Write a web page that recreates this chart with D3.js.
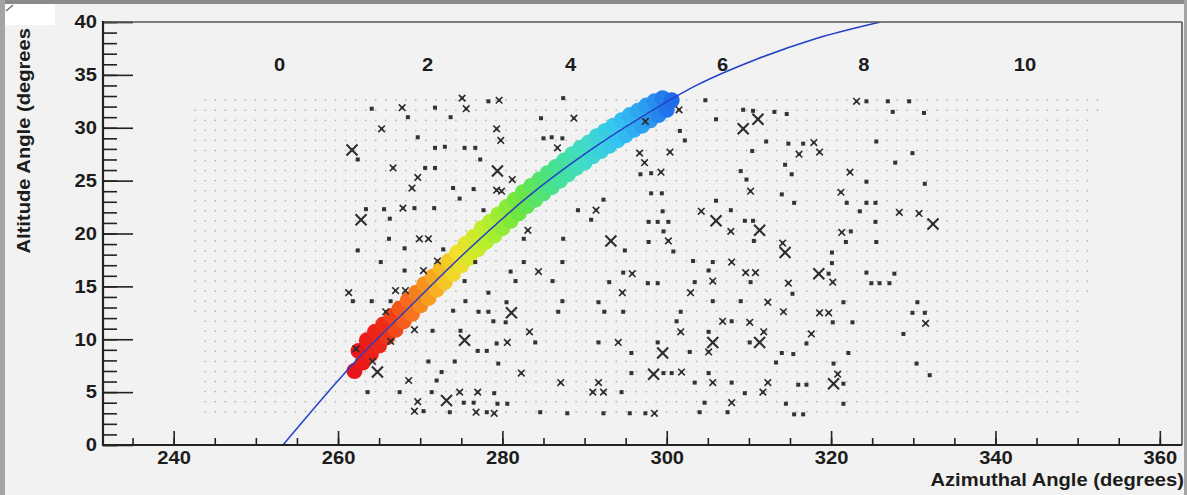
<!DOCTYPE html>
<html>
<head>
<meta charset="utf-8">
<script src="https://cdn.jsdelivr.net/npm/d3@7"></script>
<style>
  html, body { margin: 0; padding: 0; background: #f2f2f2; }
  svg { display: block; }
  text { font-family: "Liberation Sans", Arial, sans-serif; font-weight: bold; fill: #1c1c1c; }
</style>
</head>
<body>
<svg id="chart" width="1187" height="495"></svg>
<script>
// ---------- data ----------
// Camera field of view: one row of sample directions per altitude, with its azimuth extent
const gridRowAlt  = [32.6,31.65,30.7,29.75,28.8,27.85,26.9,25.95,25.0,24.05,23.1,22.15,21.2,20.25,19.3,18.35,
                     17.4,16.45,15.5,14.55,13.6,12.65,11.7,10.75,9.8,8.85,7.9,6.95,6.0,5.05,4.1,3.15];
const gridRowFrom = [242.7,242.3,242.4,242.2,242.0,241.8,241.7,241.6,241.6,241.5,241.5,241.6,241.7,241.7,241.8,242.0,
                     242.0,242.1,242.2,242.3,242.4,242.6,242.7,242.8,242.9,243.0,243.0,243.2,243.2,243.2,243.3,243.3];
const gridRowTo   = [352.7,352.5,352.4,352.3,352.2,352.0,351.9,351.8,351.7,351.7,351.6,351.6,351.5,351.5,351.4,351.4,
                     351.3,351.3,351.2,351.2,351.1,351.1,351.0,351.0,351.0,350.9,350.9,350.9,350.8,350.8,350.8,350.7];
const gridStep = 1.22;

// Star detections: azimuth, altitude, kind (1 = weak, 2 = medium, 3 = strong)
const markAz = [
  275.1,278.3,279.6,287.4,264.1,267.8,271.8,275.6,268.5,273.7,284.7,288.7,265.3,279.3,269.7,279.8,285.0,286.0,287.3,261.7,
  271.8,273.0,275.4,276.7,286.7,262.4,277.3,266.7,270.6,271.8,279.4,269.7,281.2,269.0,274.0,276.5,279.3,279.9,274.8,292.3,
  263.4,265.6,267.9,269.3,271.7,277.7,289.2,291.4,262.8,266.3,290.8,283.1,266.2,269.9,271.0,282.6,287.4,293.2,262.4,268.1,
  272.8,294.9,
  304.7,323.1,324.3,326.9,329.5,301.5,309.3,310.5,313.1,314.6,327.5,331.3,297.4,306.0,311.1,309.3,301.6,302.2,312.1,314.8,
  316.6,317.9,325.5,296.7,300.4,310.4,316.1,318.6,329.9,297.3,327.8,314.4,296.8,298.1,299.3,309.0,315.2,322.3,324.3,331.4,
  309.7,298.1,299.4,310.2,314.0,321.2,306.0,315.5,321.9,324.3,325.4,299.5,304.2,307.8,323.5,328.3,330.7,297.8,298.9,300.2,
  306.0,309.5,310.5,325.4,332.4,299.6,307.8,311.3,321.3,322.4,297.8,300.2,310.6,314.1,321.8,325.5,300.8,314.4,320.1,
  265.2,272.1,276.7,282.6,287.3,268.1,270.4,281.0,284.4,294.7,295.8,275.4,281.6,286.1,293.0,261.3,267.0,268.2,278.3,294.6,
  261.8,264.1,266.4,275.5,280.5,287.3,291.7,265.8,274.0,277.1,278.3,281.1,286.8,292.4,294.7,278.9,280.4,269.3,271.5,274.9,
  283.3,266.4,275.4,279.3,280.6,284.0,291.7,294.1,262.2,277.0,278.1,295.7,271.0,274.2,279.5,264.2,264.8,272.6,282.3,295.7,
  268.6,272.0,287.1,291.7,263.6,267.5,271.4,274.8,277.0,279.0,291.0,292.3,294.5,269.7,273.2,275.3,276.5,279.4,280.6,269.3,
  270.4,273.6,276.8,278.1,279.0,284.6,287.9,292.3,295.5,
  303.2,305.6,307.9,320.1,305.1,309.6,310.8,318.5,319.7,324.3,327.7,297.7,298.9,303.4,305.6,310.2,314.8,320.2,324.9,325.9,
  327.1,302.9,315.3,305.6,309.0,312.3,321.5,330.5,301.7,314.2,318.6,319.7,329.9,331.4,301.2,306.8,307.9,310.1,320.2,322.6,
  331.5,301.7,305.1,311.8,317.6,328.8,298.9,305.6,310.1,311.3,317.0,299.5,302.8,305.1,314.0,315.4,322.1,313.3,320.3,330.4,
  298.4,299.6,300.6,301.8,305.1,320.8,332.0,303.4,305.6,307.9,312.3,316.0,317.0,320.3,321.5,309.5,311.7,304.6,307.9,314.5,
  321.5,297.4,298.5,304.0,307.4,315.5,316.6
];
const markAlt = [
  32.8,32.5,32.6,32.8,31.8,31.9,31.9,31.8,31.0,31.0,30.9,30.9,29.9,29.9,29.1,28.8,29.0,29.1,29.0,27.9,
  28.1,28.2,28.1,28.1,28.1,27.0,27.0,26.2,26.2,26.2,25.9,25.3,25.1,24.3,24.3,24.2,24.1,24.0,23.3,23.2,
  22.3,22.3,22.4,22.4,22.4,22.2,22.2,22.2,21.3,21.4,21.3,20.3,19.5,19.5,19.5,19.5,19.5,19.3,18.4,18.6,
  18.5,18.4,
  32.6,32.5,32.5,32.5,32.5,31.7,31.7,31.6,31.5,31.3,31.5,31.4,30.6,30.8,30.8,29.9,29.7,28.8,28.7,28.5,
  28.5,28.6,28.7,27.6,27.7,27.8,27.5,27.7,27.6,26.7,26.7,26.5,25.6,25.7,25.8,25.9,25.6,25.8,24.9,24.7,
  25.1,23.8,23.8,24.0,23.7,23.9,23.1,22.9,22.9,22.9,22.9,22.1,22.1,22.2,22.1,22.0,21.9,21.1,21.1,21.1,
  21.2,21.2,21.2,21.1,20.9,20.2,20.2,20.3,20.1,20.2,19.2,19.3,19.3,19.1,19.2,19.2,18.3,18.2,18.2,
  17.3,17.4,17.3,17.3,17.3,16.5,16.5,16.4,16.4,16.3,16.2,15.5,15.5,15.5,15.4,14.4,14.6,14.6,14.4,14.4,
  13.6,13.6,13.6,13.6,13.5,13.6,13.5,12.6,12.7,12.6,12.6,12.5,12.6,12.6,12.6,11.7,11.6,10.9,10.8,10.8,
  10.7,9.8,9.9,9.6,9.7,9.7,9.7,9.7,9.1,8.9,8.9,8.7,7.9,7.9,7.7,7.9,6.9,6.9,6.8,6.8,
  6.1,6.1,5.9,5.9,5.0,5.0,5.0,5.0,5.0,4.9,5.0,5.0,5.0,4.1,4.2,4.0,4.0,3.9,3.9,3.2,
  3.2,3.1,3.1,3.1,3.0,3.1,3.0,3.0,3.0,
  17.4,17.3,17.3,17.2,16.5,16.3,16.3,16.2,16.2,16.3,16.2,15.3,15.3,15.4,15.5,15.4,15.3,15.4,15.3,15.3,
  15.3,14.4,14.3,13.6,13.6,13.5,13.5,13.5,12.6,12.6,12.5,12.5,12.5,12.5,11.7,11.7,11.7,11.6,11.6,11.6,
  11.5,10.7,10.7,10.7,10.5,10.5,9.7,9.7,9.7,9.7,9.6,8.7,8.8,8.8,8.7,8.6,8.7,7.8,7.7,7.7,
  6.7,6.8,6.8,6.9,6.8,6.7,6.6,5.9,5.9,5.9,5.9,5.7,5.7,5.8,5.8,4.9,5.0,4.0,4.0,3.9,
  3.9,3.0,3.0,3.1,3.1,2.9,2.9
];
const markKind = [
  2,1,2,1,1,2,1,2,1,1,1,2,2,2,1,2,1,1,1,3,
  1,1,1,1,2,1,1,2,1,1,3,2,2,2,1,1,2,2,1,1,
  1,1,2,1,1,1,1,2,3,1,1,2,1,2,2,1,1,3,1,1,
  1,1,
  1,2,1,1,1,2,1,1,1,1,1,1,2,1,3,3,1,1,1,1,
  1,2,1,2,2,1,2,2,1,2,1,1,1,1,2,1,1,2,1,1,
  1,1,1,2,1,2,1,1,1,1,1,1,2,1,1,2,2,1,1,1,
  3,1,1,1,3,1,2,3,2,1,1,2,1,2,1,1,1,3,1,
  1,2,1,1,1,1,2,1,2,1,2,1,1,1,1,2,2,2,1,2,
  1,1,1,1,1,1,1,2,1,1,1,3,1,1,1,1,1,2,1,1,
  2,2,3,1,2,1,1,2,2,1,1,1,1,1,1,2,3,1,2,1,
  2,1,2,2,1,1,1,2,2,1,2,2,1,2,3,1,1,1,1,2,
  1,1,2,1,2,1,1,1,1,
  1,1,2,1,1,2,2,3,1,1,1,1,1,1,2,1,2,2,1,1,
  1,2,1,1,1,2,1,1,1,2,2,2,1,1,1,2,1,2,1,1,
  2,2,1,2,2,1,1,3,1,3,1,3,1,2,1,1,1,1,1,1,
  3,1,1,2,1,2,1,1,2,1,2,1,1,3,1,1,2,1,2,1,
  1,1,2,1,1,1,1
];

// Tracked object positions along its path (azimuth, altitude)
const trackAz  = [262.0,262.5,263.0,263.5,264.0,264.5,265.0,265.5,266.0,266.5,267.0,267.5,268.0,268.5,269.0,269.5,
                  270.0,270.5,271.0,271.5,272.0,272.5,273.0,273.5,274.0,274.5,275.0,275.5,276.0,276.5,277.0,277.5,
                  278.0,278.5,279.0,279.5,280.0,280.5,281.0,281.5,282.0,282.5,283.0,283.5,284.0,284.5,285.0,285.5,
                  286.0,286.5,287.0,287.5,288.0,288.5,289.0,289.5,290.0,290.5,291.0,291.5,292.0,292.5,293.0,293.5,
                  294.0,294.5,295.0,295.5,296.0,296.5,297.0,297.5,298.0,298.5,299.0,299.5,300.0,300.6];
const trackAlt = [7.0,8.9,7.8,9.9,8.6,10.7,9.4,11.4,10.2,12.2,10.9,12.9,11.7,13.7,12.4,14.4,
                  13.2,15.2,13.9,15.9,14.7,16.7,15.4,17.4,16.2,18.2,17.0,19.0,17.7,19.7,18.5,20.5,
                  19.2,21.1,19.8,21.8,20.5,22.5,21.2,23.2,21.9,23.9,22.6,24.5,23.2,25.1,23.8,25.7,
                  24.4,26.3,25.0,26.9,25.6,27.5,26.2,28.1,26.7,28.6,27.3,29.2,27.8,29.7,28.3,30.2,
                  28.8,30.7,29.3,31.2,29.8,31.6,30.2,32.1,30.7,32.5,31.2,32.8,31.7,32.6];

// Fitted path of the object
const fitAz  = [253.3,259.0,262.2,268.0,275.8,283.3,290.0,296.7,303.6,311.0,318.0,326.0];
const fitAlt = [0.0,5.2,8.0,12.5,18.44,23.6,27.5,30.9,34.0,36.5,38.4,40.0];

// Time labels across the top of the frame
const topLabels   = ["0","2","4","6","8","10"];
const topLabelAz  = [252.9,270.9,288.3,306.8,324.0,343.6];
const topLabelAlt = 35.4;

const xTicks = [240,260,280,300,320,340,360];
const yTicks = [0,5,10,15,20,25,30,35,40];

// ---------- layout ----------
const svg = d3.select("#chart");
const W = 1187, H = 495;
const STRETCH = 1.12;   // the typeface is set slightly wide
const x = d3.scaleLinear().domain([231.4, 362.7]).range([103, 1182]);
const y = d3.scaleLinear().domain([0, 40]).range([445, 22]);

// page border
svg.append("rect").attr("width", W).attr("height", H).attr("fill", "#f2f2f2");
svg.append("rect").attr("x", 0).attr("y", 0).attr("width", W).attr("height", 4).attr("fill", "#8a8a8a");
svg.append("rect").attr("x", 0).attr("y", 0).attr("width", 5).attr("height", H).attr("fill", "#a4a4a4");
svg.append("rect").attr("x", 1184).attr("y", 0).attr("width", 3).attr("height", H).attr("fill", "#a4a4a4");
svg.append("rect").attr("x", 5).attr("y", 4).attr("width", 50).attr("height", 21).attr("fill", "#ffffff");
svg.append("line").attr("x1", 6).attr("y1", 11).attr("x2", 13).attr("y2", 5)
   .attr("stroke", "#666").attr("stroke-width", 1.2);

svg.append("defs").append("clipPath").attr("id", "plot")
  .append("rect").attr("x", 103).attr("y", 22).attr("width", 1079).attr("height", 423);

const plot = svg.append("g").attr("clip-path", "url(#plot)");

// field-of-view lattice
const gridPts = [];
gridRowAlt.forEach((alt, i) => {
  const k0 = Math.ceil((gridRowFrom[i] - 241.4) / gridStep);
  for (let k = k0; 241.4 + k * gridStep <= gridRowTo[i]; k++) {
    gridPts.push([241.4 + k * gridStep, alt]);
  }
});
plot.append("g").selectAll("rect").data(gridPts).join("rect")
  .attr("x", d => x(d[0]) - 0.75).attr("y", d => y(d[1]) - 0.75)
  .attr("width", 1.5).attr("height", 1.5).attr("fill", "#b2b2b2");

// tracked object, coloured along its path
const trackColor = d3.scaleLinear()
  .domain([262, 265.5, 268.5, 271.5, 274.5, 278, 282, 286, 290, 294, 297.5, 301])
  .range(["#e8141c", "#ee2a18", "#f56a1c", "#f8a820", "#f2e02a", "#b8f02c", "#6ce640", "#48e28a",
          "#40dcc8", "#34c4f2", "#2c9cf0", "#1c66e8"])
  .clamp(true);
const track = trackAz.map((a, i) => [a, trackAlt[i]]);
plot.append("g").selectAll("circle").data(track).join("circle")
  .attr("cx", d => x(d[0])).attr("cy", d => y(d[1])).attr("r", 8)
  .attr("fill", d => trackColor(d[0]));

// fitted path
const fit = fitAz.map((a, i) => [a, fitAlt[i]]);
plot.append("path").datum(fit)
  .attr("d", d3.line().x(d => x(d[0])).y(d => y(d[1])).curve(d3.curveMonotoneX))
  .attr("fill", "none").attr("stroke", "#2340c8").attr("stroke-width", 1.5);

// detections
const marks = markAz.map((a, i) => ({ az: a, alt: markAlt[i], kind: markKind[i] }));
const mg = plot.append("g");
marks.forEach(m => {
  const cx = x(m.az), cy = y(m.alt);
  if (m.kind === 1) {
    mg.append("rect").attr("x", cx - 2).attr("y", cy - 2).attr("width", 4).attr("height", 4)
      .attr("fill", "#333");
  } else {
    const s = m.kind === 2 ? 3.3 : 5.5;
    mg.append("path")
      .attr("d", `M${cx - s},${cy - s}L${cx + s},${cy + s}M${cx - s},${cy + s}L${cx + s},${cy - s}`)
      .attr("stroke", "#2e2e2e").attr("stroke-width", m.kind === 2 ? 1.6 : 2.1).attr("fill", "none");
    mg.append("rect").attr("x", cx - 1.5).attr("y", cy - 1.5).attr("width", 3).attr("height", 3)
      .attr("fill", "#2e2e2e");
  }
});

// ---------- axes ----------
const yAxisMinor = d3.axisLeft(y).ticks(40).tickSize(-14).tickFormat("");
const yAxisMajor = d3.axisLeft(y).tickValues(yTicks).tickSize(-30).tickPadding(6).tickFormat(d3.format("d"));
const xAxisMinor = d3.axisBottom(x).tickValues(d3.range(235, 361, 5)).tickSize(-7).tickFormat("");
const xAxisMajor = d3.axisBottom(x).tickValues(xTicks).tickSize(-14).tickPadding(6).tickFormat(d3.format("d"));

function styleAxis(g) {
  g.select(".domain").remove();
  g.selectAll(".tick line").attr("stroke", "#222").attr("stroke-width", 1.6);
  g.selectAll(".tick text").attr("font-size", 18).attr("font-family", null).attr("fill", "#1c1c1c");
}
function stretchLeft(g) {
  g.selectAll(".tick text").attr("x", null)
    .attr("transform", `translate(-6,0) scale(${STRETCH},1)`);
}
function stretchBottom(g) {
  g.selectAll(".tick text").attr("transform", `scale(${STRETCH},1)`);
}
svg.append("g").attr("transform", "translate(103,0)").call(yAxisMinor).call(styleAxis);
svg.append("g").attr("transform", "translate(103,0)").call(yAxisMajor).call(styleAxis).call(stretchLeft);
svg.append("g").attr("transform", "translate(0,445)").call(xAxisMinor).call(styleAxis);
svg.append("g").attr("transform", "translate(0,445)").call(xAxisMajor).call(styleAxis).call(stretchBottom);

// frame
svg.append("line").attr("x1", 103).attr("x2", 1182).attr("y1", 22).attr("y2", 22)
  .attr("stroke", "#555").attr("stroke-width", 1.6);
svg.append("line").attr("x1", 1182).attr("x2", 1182).attr("y1", 22).attr("y2", 445)
  .attr("stroke", "#555").attr("stroke-width", 1.6);
svg.append("line").attr("x1", 103).attr("x2", 103).attr("y1", 21).attr("y2", 446)
  .attr("stroke", "#222").attr("stroke-width", 2.2);
svg.append("line").attr("x1", 102).attr("x2", 1182).attr("y1", 445).attr("y2", 445)
  .attr("stroke", "#222").attr("stroke-width", 2.2);

// titles
svg.append("text").attr("transform", `translate(1184,486) scale(${STRETCH},1)`).attr("text-anchor", "end")
  .attr("font-size", 18).text("Azimuthal Angle (degrees)");
svg.append("text").attr("transform", `translate(30,28) rotate(-90) scale(${STRETCH},1)`).attr("text-anchor", "end")
  .attr("font-size", 18).text("Altitude Angle (degrees");

// time labels
svg.append("g").selectAll("text").data(topLabels).join("text")
  .attr("transform", (d, i) => `translate(${x(topLabelAz[i])},${y(topLabelAlt)}) scale(${STRETCH},1)`)
  .attr("text-anchor", "middle").attr("font-size", 18).text(d => d);
</script>
</body>
</html>
